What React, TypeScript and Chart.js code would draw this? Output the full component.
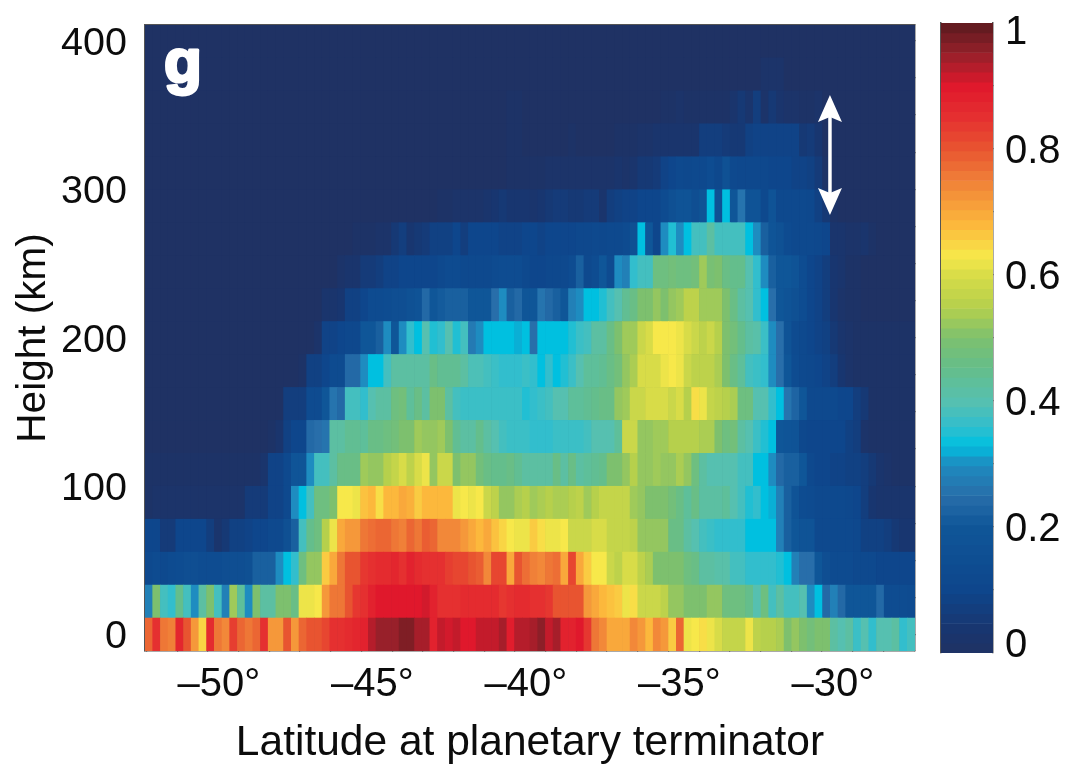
import React, { useEffect, useRef } from "react";
import { Chart, registerables } from "chart.js";
Chart.register(...registerables);

const zeros = (n: number) => new Array(n).fill(0);

// Normalised intensity (percent) per latitude column, one list per height row
const row00 = [78,85,76,75,87,80,72,65,86,76,74,83,78,76,78,85,72,72,80,72,78,80,80,82,85,85,86,87,88,93,95,95,95,97,97,94,94,88,92,91,92,90,90,92,92,92,94,89,93,93,94,96,92,94,88,88,90,84,76,74,70,70,70,74,72,68,74,72,66,78,62,63,64,62,60,57,57,57,62,56,55,55,54,50,52,50,48,50,50,42,40,42,37,40,36,40,40,42,36,38];
const row01 = [28,50,38,36,45,38,30,42,50,38,28,53,43,30,50,42,42,50,50,46,62,62,63,72,76,76,80,84,85,88,90,90,90,90,90,90,91,88,85,85,85,86,86,86,86,86,84,85,86,86,85,85,84,80,80,80,80,72,70,68,67,66,62,64,58,58,58,56,52,52,50,50,50,52,52,47,47,47,45,40,47,38,42,38,38,40,30,33,24,28,24,20,20,20,20,24,14,14,14,13];
const row02 = [12,13,12,13,14,15,15,14,14,14,15,15,15,16,22,22,22,30,33,36,47,52,52,66,70,76,80,80,84,85,86,86,87,85,88,86,85,85,85,83,82,82,80,79,74,82,82,70,80,77,75,74,76,77,70,82,70,66,63,63,58,56,60,60,56,54,50,50,50,50,47,46,42,42,41,41,38,38,36,36,36,36,35,33,28,25,25,20,15,13,13,13,12,12,12,10,10,10,10,10];
const row03 = [10,10,6,6,10,10,10,10,7,3,5,8,8,9,10,10,12,12,16,22,38,45,47,55,62,70,72,72,76,77,78,78,76,75,78,76,79,78,74,74,74,72,70,68,70,67,65,63,62,62,66,64,62,62,63,58,58,58,60,60,57,57,57,56,52,52,52,52,46,46,42,40,38,37,36,36,36,36,33,33,33,33,28,22,20,18,18,12,12,12,12,12,11,8,8,8,7,5,4,4];
const row04 = [1,2,2,2,2,2,2,2,2,2,2,2,2,6,6,6,9,9,12,30,33,38,47,47,50,63,63,62,67,68,64,68,68,70,69,66,68,68,68,68,62,63,62,63,58,56,52,52,54,55,53,54,55,54,54,55,56,53,55,57,57,57,57,53,52,50,50,50,48,46,43,46,42,42,42,43,40,38,35,36,33,32,28,22,18,14,13,12,12,12,12,11,10,7,4,3,3,3,3,3];
const row05 = [1,1,1,1,1,1,1,1,1,1,1,1,1,1,1,3,9,9,12,19,19,30,38,38,42,46,46,46,53,52,52,55,57,60,56,60,62,52,58,58,50,52,52,48,46,45,45,46,44,42,42,42,42,46,42,46,42,43,44,45,50,50,52,55,52,52,53,52,52,54,52,47,42,40,40,40,40,38,38,33,33,30,24,22,22,20,12,10,10,9,9,8,8,7,5,3,2,1,1,1];
const row06 = [...zeros(16),1,3,8,10,10,24,25,26,42,42,44,44,43,46,46,47,48,50,50,53,52,52,53,50,44,42,42,45,42,40,38,37,37,37,36,36,36,37,37,37,37,38,40,40,40,43,58,58,52,52,53,53,55,55,55,55,54,54,50,47,48,42,40,37,35,33,20,19,18,11,10,10,10,10,10,8,7,2,1,1,1,1,1,1];
const row07 = [...zeros(18),7,7,7,13,13,20,26,24,38,38,36,40,42,42,47,48,43,46,42,50,50,42,38,37,37,37,37,37,37,37,37,35,36,37,38,40,40,43,43,44,45,46,46,52,53,58,58,60,60,60,58,60,55,64,62,57,56,55,54,47,47,40,40,36,33,26,23,20,12,12,12,12,10,10,7,5,1,1,1,1,1,1,1];
const row08 = [...zeros(20),1,8,8,10,13,13,24,24,30,33,33,38,42,42,42,42,42,46,44,44,44,42,39,39,38,37,36,36,36,37,36,33,36,33,35,37,40,43,43,44,46,48,52,54,60,60,60,62,63,62,58,56,56,56,54,50,46,43,38,37,36,30,25,20,14,12,11,10,9,7,4,2,1,1,1,1,1,1,1,1];
const row09 = [...zeros(22),2,9,9,10,11,11,20,20,22,30,20,30,36,33,40,35,36,40,35,38,27,30,33,33,33,33,32,33,25,33,33,33,33,35,37,38,42,42,46,50,53,53,58,60,63,63,63,62,60,58,56,58,55,50,48,45,42,41,37,30,25,18,13,12,10,9,8,5,3,2,1,1,1,1,1,1,1,1];
const row10 = [...zeros(23),3,3,4,8,8,10,13,13,14,15,15,17,18,24,20,21,22,22,22,20,20,20,25,30,22,24,20,20,26,24,22,20,28,30,33,33,35,38,40,44,46,50,50,52,50,52,53,56,56,53,53,53,50,46,42,40,36,33,25,20,18,16,14,10,9,7,4,2,1,1];
const row11 = [...zeros(25),2,3,3,6,6,7,9,9,10,10,10,10,10,12,13,13,12,12,12,12,13,14,14,14,12,10,10,11,11,12,14,22,12,14,20,13,30,28,36,38,38,47,47,48,47,47,48,53,49,50,46,45,45,40,36,30,22,20,20,18,14,10,9,7,4,3,1,1];
const row12 = [...zeros(27),1,1,1,2,2,5,7,4,5,6,8,8,8,10,7,10,10,10,10,9,9,9,10,10,9,10,10,10,10,11,11,12,11,12,12,13,16,33,20,10,30,35,30,33,38,38,42,38,38,38,38,33,30,22,19,17,13,12,12,12,11,10,3,3,2,2,3,1];
const row13 = [...zeros(38),1,1,2,2,2,2,3,4,5,4,4,4,3,4,5,6,6,5,5,6,6,3,7,8,9,9,10,10,10,13,16,18,18,15,18,33,16,33,20,26,18,18,12,18,12,12,12,12,11,8,5,1];
const row14 = [...zeros(47),1,1,1,1,1,2,2,2,2,2,2,2,2,2,3,2,3,5,5,6,9,10,12,11,12,12,14,11,17,12,11,11,11,11,10,10,10,9,9,8,6,1];
const row15 = [...zeros(47),1,1,0,0,0,0,0,0,1,0,0,0,0,0,1,1,1,2,2,3,3,3,3,3,3,7,7,7,6,5,5,8,9,9,9,9,9,9,5,6,4];
const row16 = [...zeros(47),1,1,0,0,0,0,0,0,0,0,0,0,0,0,0,0,0,0,0,0,1,1,2,1,1,1,1,1,1,3,5,3,7,2,5,3,2,2,1,1,2];
const row17 = [...zeros(80),2,2,2];
const row18: number[] = [];
const rows = [row00,row01,row02,row03,row04,row05,row06,row07,row08,row09,row10,row11,row12,row13,row14,row15,row16,row17,row18];

const heightStep = 22.2;
const latStart = -52.05;
const latStep = 0.2508;
const columnCount = 100;
const latTicks = [-52,-51,-50,-49,-48,-47,-46,-45,-44,-43,-42,-41,-40,-39,-38,-37,-36,-35,-34,-33,-32,-31,-30,-29,-28];
const heightTicks = [0,25,50,75,100,125,150,175,200,225,250,275,300,325,350,375,400];
const barTicks = [0.1,0.2,0.3,0.4,0.5,0.6,0.7,0.8,0.9];
const barLabelValues = [0.016,0.2,0.4,0.6,0.8,0.989];
const barLabels = ["0","0.2","0.4","0.6","0.8","1"];
const panelLabel = "g";
const arrowLat = -29.74;
const arrowTop = 363.5;
const arrowBottom = 282.7;

const colorStops: [number, number, number, number][] = [
  [0,31,50,100],[0.04,24,54,112],[0.1,14,70,140],[0.2,15,86,152],[0.25,40,110,170],[0.3,30,140,192],
  [0.33,0,192,224],[0.36,50,190,205],[0.4,86,192,176],[0.45,100,190,140],[0.5,125,192,110],[0.55,182,208,76],
  [0.6,216,220,72],[0.63,247,232,74],[0.68,252,184,60],[0.75,240,128,56],[0.8,232,84,48],[0.85,229,48,48],
  [0.9,224,24,44],[0.95,152,32,42],[1,90,26,30],
];

function colorOf(v: number) {
  for (let i = 1; i < colorStops.length; i++) {
    const a = colorStops[i - 1], b = colorStops[i];
    if (v <= b[0]) {
      const t = (v - a[0]) / (b[0] - a[0]);
      return `rgb(${Math.round(a[1]+(b[1]-a[1])*t)},${Math.round(a[2]+(b[2]-a[2])*t)},${Math.round(a[3]+(b[3]-a[3])*t)})`;
    }
  }
  return "rgb(90,26,30)";
}

const FONT = "'Liberation Sans', Arial, sans-serif";
const TEXT = "#0c0c0c";
const noPad = (s: any) => { s.paddingTop = 0; s.paddingBottom = 0; s.paddingLeft = 0; s.paddingRight = 0; };

const decorations = {
  id: "decorations",
  afterDatasetsDraw(chart: any) {
    const { ctx, scales } = chart;
    const x = scales.x.getPixelForValue(arrowLat);
    const y0 = scales.y.getPixelForValue(arrowTop);
    const y1 = scales.y.getPixelForValue(arrowBottom);
    ctx.save();
    ctx.fillStyle = "#fff";
    ctx.strokeStyle = "#fff";
    ctx.lineWidth = 3.5;
    ctx.beginPath(); ctx.moveTo(x, y0 + 10); ctx.lineTo(x, y1 - 10); ctx.stroke();
    ctx.beginPath(); ctx.moveTo(x, y0); ctx.lineTo(x + 12, y0 + 27); ctx.lineTo(x, y0 + 22); ctx.lineTo(x - 12, y0 + 27); ctx.closePath(); ctx.fill();
    ctx.beginPath(); ctx.moveTo(x, y1); ctx.lineTo(x + 12, y1 - 27); ctx.lineTo(x, y1 - 22); ctx.lineTo(x - 12, y1 - 27); ctx.closePath(); ctx.fill();
    ctx.font = `bold 62px ${FONT}`;
    ctx.textAlign = "left";
    ctx.textBaseline = "alphabetic";
    ctx.lineWidth = 3;
    ctx.lineJoin = "round";
    ctx.strokeText(panelLabel, chart.chartArea.left + 19, chart.chartArea.top + 57);
    ctx.fillText(panelLabel, chart.chartArea.left + 19, chart.chartArea.top + 57);
    ctx.restore();
  },
  beforeDatasetsDraw(chart: any) {
    const { ctx, chartArea: a } = chart;
    ctx.save();
    ctx.fillStyle = colorOf(0);
    ctx.fillRect(a.left, a.top, a.right - a.left, a.bottom - a.top);
    ctx.restore();
  },
};

export default function App() {
  const mainRef = useRef<HTMLCanvasElement>(null);
  const barRef = useRef<HTMLCanvasElement>(null);

  useEffect(() => {
    document.body.style.margin = "0";
    document.body.style.background = "#fff";
    const lats = Array.from({ length: columnCount }, (_, i) => latStart + latStep * (i + 0.5));
    const datasets = rows.map((row, r) => {
      const h = r * heightStep;
      return {
        label: `h${r}`,
        data: lats.map((x) => ({ x, y: [h - heightStep / 2, h + heightStep / 2] })),
        backgroundColor: lats.map((_, i) => colorOf((row[i] ?? 0) / 100)),
        borderWidth: 0,
        barPercentage: 1,
        categoryPercentage: 1,
        grouped: false,
      };
    });
    const tickStyle = { color: "#333", tickLength: -4, drawOnChartArea: false, lineWidth: 1.2 };
    const frame = { display: true, color: "#555", width: 1.5 };
    const main = new Chart(mainRef.current!, {
      type: "bar",
      data: { datasets: datasets as any },
      plugins: [decorations],
      options: {
        animation: false,
        responsive: false,
        layout: { padding: { left: 0, top: 25, right: 15, bottom: 0 } },
        plugins: { legend: { display: false }, tooltip: { enabled: false } },
        scales: {
          x: {
            type: "linear", min: latStart, max: latStart + latStep * columnCount, offset: false,
            position: "bottom",
            grid: { ...tickStyle, offset: false }, border: frame,
            afterBuildTicks: (s: any) => { s.ticks = latTicks.map((value) => ({ value })); },
            afterFit: (s: any) => { s.height = 113; noPad(s); },
            ticks: {
              autoSkip: false, maxRotation: 0, padding: 14, labelOffset: 11, color: TEXT,
              font: { family: FONT, size: 40 },
              callback: (v: any) => (v % 5 === 0 ? `–${Math.abs(v)}°` : ""),
            },
            title: { display: true, text: "Latitude at planetary terminator", color: TEXT, font: { family: FONT, size: 42.5 }, padding: { top: 0, bottom: -5 } },
          },
          x2: {
            type: "linear", min: latStart, max: latStart + latStep * columnCount, position: "top", offset: false,
            grid: { ...tickStyle, offset: false }, border: frame,
            afterBuildTicks: (s: any) => { s.ticks = latTicks.map((value) => ({ value })); },
            afterFit: (s: any) => { s.height = 0; noPad(s); },
            ticks: { display: false, autoSkip: false },
          },
          y: {
            type: "linear", min: -heightStep / 2, max: 18.5 * heightStep, beginAtZero: false, position: "left",
            grid: tickStyle, border: frame,
            afterBuildTicks: (s: any) => { s.ticks = heightTicks.map((value) => ({ value })); },
            afterFit: (s: any) => { s.width = 145; noPad(s); },
            ticks: {
              autoSkip: false, padding: 22, labelOffset: 3, color: TEXT, font: { family: FONT, size: 39.5 },
              callback: (v: any) => (v % 100 === 0 ? String(v) : ""),
            },
            title: { display: true, text: "Height (km)", color: TEXT, font: { family: FONT, size: 40.5 }, padding: { top: 10, bottom: 0 } },
          },
          y2: {
            type: "linear", min: -heightStep / 2, max: 18.5 * heightStep, position: "right",
            grid: tickStyle, border: frame,
            afterBuildTicks: (s: any) => { s.ticks = heightTicks.map((value) => ({ value })); },
            afterFit: (s: any) => { s.width = 0; noPad(s); },
            ticks: { display: false, autoSkip: false },
          },
        },
      } as any,
    });

    const levels = Array.from({ length: 64 }, (_, i) => (i + 0.5) / 64);
    const barTickStyle = { color: "#444", tickLength: -12, drawOnChartArea: false, lineWidth: 1.2 };
    const bar = new Chart(barRef.current!, {
      type: "bar",
      data: {
        datasets: [{
          data: levels.map((y) => ({ y, x: [0, 1] })),
          backgroundColor: levels.map(colorOf),
          borderWidth: 0, barPercentage: 1, categoryPercentage: 1,
        }] as any,
      },
      options: {
        animation: false,
        responsive: false,
        indexAxis: "y",
        layout: { padding: { left: 11, top: 23, right: 0, bottom: 111 } },
        plugins: { legend: { display: false }, tooltip: { enabled: false } },
        scales: {
          x: { type: "linear", min: 0, max: 1, display: false },
          y: {
            type: "linear", min: 0, max: 1, position: "left", offset: false,
            grid: { ...barTickStyle, offset: false }, border: frame,
            afterBuildTicks: (s: any) => { s.ticks = barTicks.map((value) => ({ value })); },
            afterFit: (s: any) => { s.width = 0; noPad(s); },
            ticks: { display: false, autoSkip: false },
          },
          yR: {
            type: "linear", min: 0, max: 1, position: "right", offset: false,
            grid: { ...barTickStyle, offset: false }, border: frame,
            afterBuildTicks: (s: any) => { s.ticks = barTicks.map((value) => ({ value })); },
            afterFit: (s: any) => { s.width = 0; noPad(s); },
            ticks: { display: false, autoSkip: false },
          },
          yLabels: {
            type: "linear", min: 0, max: 1, position: "right", offset: false,
            grid: { display: false, drawOnChartArea: false, drawTicks: false, offset: false }, border: { display: false },
            afterBuildTicks: (s: any) => { s.ticks = barLabelValues.map((value) => ({ value })); },
            afterFit: (s: any) => { s.width = 73; noPad(s); },
            ticks: {
              autoSkip: false, padding: 12, labelOffset: 3, color: TEXT, font: { family: FONT, size: 40 },
              callback: (_: any, i: number) => barLabels[i],
            },
          },
        },
      } as any,
    });
    return () => { main.destroy(); bar.destroy(); };
  }, []);

  return (
    <div style={{ position: "absolute", left: 0, top: 0, width: 1066, height: 764, background: "#fff", filter: "blur(0.7px)", overflow: "hidden" }}>
      <canvas ref={mainRef} width={930} height={764} style={{ position: "absolute", left: 0, top: 0, display: "block" }} />
      <canvas ref={barRef} width={136} height={764} style={{ position: "absolute", left: 930, top: 0, display: "block" }} />
    </div>
  );
}
